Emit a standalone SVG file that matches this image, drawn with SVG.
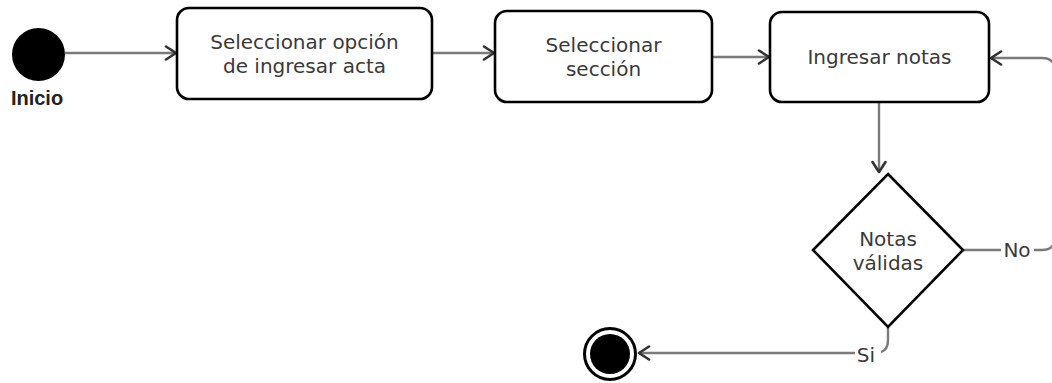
<svg xmlns="http://www.w3.org/2000/svg" width="1052" height="383" viewBox="0 0 1052 383">
<defs>
<style>
.node{fill:#fff;stroke:#000;stroke-width:2.6}
.lbl{font-family:"DejaVu Sans",sans-serif;font-size:20px;fill:#3a3a3a;text-anchor:middle}
.conn{fill:none;stroke:#7a7a7a;stroke-width:2.4}
.head{fill:none;stroke:#333;stroke-width:2.6;stroke-linecap:round;stroke-linejoin:round}
</style>
<marker id="arr" markerWidth="16" markerHeight="16" refX="12" refY="8" orient="auto" markerUnits="userSpaceOnUse">
<path d="M2,1.5 L12,8 L2,14.5" fill="none" stroke="#333" stroke-width="2.6" stroke-linecap="round" stroke-linejoin="round"/>
</marker>
</defs>
<rect width="1052" height="383" fill="#fff"/>
<g id="connectors">
<path class="conn" d="M65,53 L176,53" marker-end="url(#arr)"/>
<path class="conn" d="M432,53 L494,53" marker-end="url(#arr)"/>
<path class="conn" d="M712,57 L769,57" marker-end="url(#arr)"/>
<path class="conn" d="M879,102 L879,172" marker-end="url(#arr)"/>
<path class="conn" d="M963,250 L1001,250"/>
<path class="conn" d="M1034,250 L1042,250 Q1055,250 1055,237 L1055,71 Q1055,58 1042,58 L991,58" marker-end="url(#arr)"/>
<path class="conn" d="M888,327 L888,340 Q888,350 881,352"/>
<path class="conn" d="M855,353 L639,353" marker-end="url(#arr)"/>
<text class="lbl" x="1017" y="257">No</text>
<text class="lbl" x="866" y="362">Si</text>
</g>
<g id="inicio">
<circle cx="38.5" cy="54.5" r="26.5" fill="#000"/>
<text x="37" y="105" font-family="Liberation Sans, Arial, sans-serif" font-size="20" font-weight="bold" fill="#222" text-anchor="middle">Inicio</text>
</g>
<g id="seleccionar-opcion">
<rect class="node" x="177" y="8" width="255" height="91" rx="12"/>
<text class="lbl" x="304.5" y="49">Seleccionar opción</text>
<text class="lbl" x="304.5" y="73">de ingresar acta</text>
</g>
<g id="seleccionar-seccion">
<rect class="node" x="495" y="11" width="217" height="91" rx="12"/>
<text class="lbl" x="603.5" y="52">Seleccionar</text>
<text class="lbl" x="603.5" y="76">sección</text>
</g>
<g id="ingresar-notas">
<rect class="node" x="770" y="12" width="219" height="90" rx="12"/>
<text class="lbl" x="879.5" y="64">Ingresar notas</text>
</g>
<g id="notas-validas">
<polygon class="node" points="888,174 963,250 888,327 813,250"/>
<text class="lbl" x="888" y="246">Notas</text>
<text class="lbl" x="888" y="270">válidas</text>
</g>
<g id="fin">
<circle cx="610" cy="354" r="25.5" fill="#fff" stroke="#000" stroke-width="3"/>
<circle cx="610" cy="354" r="20" fill="#000"/>
</g>
</svg>
